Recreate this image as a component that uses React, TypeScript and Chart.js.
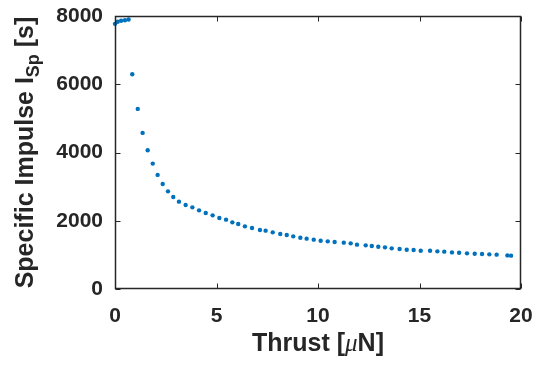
import React, { useEffect, useRef } from "react";
import { Chart, registerables } from "chart.js";

Chart.register(...registerables);

const thrust = [
  0.0, 0.13, 0.3, 0.49, 0.67, 0.85, 1.12, 1.36, 1.61, 1.86,
  2.1, 2.35, 2.61, 2.87, 3.15, 3.48, 3.81, 4.14, 4.47, 4.81,
  5.14, 5.47, 5.78, 6.07, 6.4, 6.75, 7.14, 7.42, 7.77, 8.14,
  8.46, 8.78, 9.13, 9.44, 9.79, 10.13, 10.48, 10.82, 11.27, 11.61,
  11.92, 12.35, 12.65, 12.97, 13.3, 13.63, 14.02, 14.37, 14.71, 15.06,
  15.52, 15.88, 16.22, 16.6, 16.95, 17.34, 17.72, 18.08, 18.44, 18.8,
  19.33, 19.51,
];
const isp = [
  7770, 7830, 7860, 7877, 7897, 6293, 5278, 4575, 4065, 3674,
  3343, 3079, 2862, 2698, 2560, 2463, 2393, 2305, 2228, 2158,
  2082, 2032, 1953, 1906, 1836, 1789, 1730, 1710, 1660, 1613,
  1584, 1543, 1504, 1475, 1446, 1416, 1396, 1378, 1358, 1337,
  1299, 1279, 1261, 1240, 1220, 1191, 1173, 1152, 1144, 1123,
  1123, 1103, 1094, 1073, 1064, 1044, 1035, 1026, 1015, 1006,
  985, 977,
];
const xTicks = [0, 5, 10, 15, 20];
const yTicks = [0, 2000, 4000, 6000, 8000];

const AXIS = "#262626";
const FONT = "'Liberation Sans', Arial, Helvetica, sans-serif";

const framePlugin = {
  id: "frame",
  afterDraw(chart: any) {
    const { ctx, chartArea: a, scales } = chart;
    ctx.save();
    ctx.setLineDash([]);
    ctx.strokeStyle = AXIS;
    ctx.fillStyle = AXIS;
    ctx.lineWidth = 1.5;
    const L = Math.round(a.left) + 0.5;
    const T = Math.round(a.top) + 0.5;
    const R = Math.round(a.right) - 0.5;
    const B = Math.round(a.bottom) - 0.5;
    ctx.beginPath();
    ctx.moveTo(L, T);
    ctx.lineTo(R, T);
    ctx.lineTo(R, B);
    ctx.lineTo(L, B);
    ctx.closePath();
    ctx.stroke();
    ctx.lineWidth = 1;
    const tl = 5;
    ctx.beginPath();
    xTicks.forEach((v) => {
      const px = Math.round(scales.x.getPixelForValue(v)) + 0.5;
      ctx.moveTo(px, B);
      ctx.lineTo(px, B - tl);
      ctx.moveTo(px, T);
      ctx.lineTo(px, T + tl);
    });
    yTicks.forEach((v) => {
      const py = Math.round(scales.y.getPixelForValue(v)) + 0.5;
      ctx.moveTo(L, py);
      ctx.lineTo(L + tl, py);
      ctx.moveTo(R, py);
      ctx.lineTo(R - tl, py);
    });
    ctx.stroke();

    ctx.textBaseline = "alphabetic";
    // x title: Thrust [μN]
    const xParts = [
      { t: "Thrust [", f: `bold 25px ${FONT}` },
      { t: "\u03bc", f: `italic 25px 'Liberation Serif', 'Times New Roman', serif` },
      { t: "N]", f: `bold 25px ${FONT}` },
    ];
    let w = 0;
    xParts.forEach((p) => { ctx.font = p.f; w += ctx.measureText(p.t).width; });
    let x = (a.left + a.right) / 2 - w / 2;
    const by = 351;
    xParts.forEach((p) => {
      ctx.font = p.f;
      ctx.textAlign = "left";
      ctx.fillText(p.t, x, by);
      x += ctx.measureText(p.t).width;
    });
    // y title: Specific Impulse I_Sp [s]
    const yParts = [
      { t: "Specific Impulse I", f: `bold 25px ${FONT}`, dy: 0 },
      { t: "Sp", f: `bold 18px ${FONT}`, dy: 6 },
      { t: " [s]", f: `bold 25px ${FONT}`, dy: 0 },
    ];
    let wy = 0;
    yParts.forEach((p) => { ctx.font = p.f; wy += ctx.measureText(p.t).width; });
    ctx.translate(33, (a.top + a.bottom) / 2);
    ctx.rotate(-Math.PI / 2);
    let lx = -wy / 2;
    yParts.forEach((p) => {
      ctx.font = p.f;
      ctx.textAlign = "left";
      ctx.fillText(p.t, lx, p.dy);
      lx += ctx.measureText(p.t).width;
    });
    ctx.restore();
  },
};

export default function App() {
  const ref = useRef<HTMLCanvasElement>(null);
  useEffect(() => {
    if (!ref.current) return;
    const chart = new Chart(ref.current, {
      type: "scatter",
      data: {
        datasets: [
          {
            data: thrust.map((t, i) => ({ x: t, y: isp[i] })),
            backgroundColor: "#0072BD",
            borderColor: "#0072BD",
            pointRadius: 2.2,
            pointBorderWidth: 0,
            clip: false as any,
          },
        ],
      },
      options: {
        animation: false,
        responsive: true,
        maintainAspectRatio: false,
        layout: { padding: { top: 16, right: 16, left: 0, bottom: 0 } },
        plugins: { legend: { display: false }, tooltip: { enabled: false } },
        scales: {
          x: {
            type: "linear",
            min: 0,
            max: 20,
            afterFit: (s: any) => {
              s.height = 76;
              s.paddingLeft = 0;
              s.paddingRight = 0;
            },
            afterBuildTicks: (s: any) => { s.ticks = xTicks.map((v) => ({ value: v })); },
            grid: { display: false },
            border: { display: false },
            ticks: {
              color: AXIS,
              font: { family: FONT, size: 21, weight: "bold" },
              padding: 7,
              maxRotation: 0,
              callback: (v: any) => String(v),
            },
          },
          y: {
            type: "linear",
            min: 0,
            max: 8000,
            afterFit: (s: any) => {
              s.width = 115;
              s.paddingTop = 0;
              s.paddingBottom = 0;
            },
            afterBuildTicks: (s: any) => { s.ticks = yTicks.map((v) => ({ value: v })); },
            grid: { display: false },
            border: { display: false },
            ticks: {
              color: AXIS,
              font: { family: FONT, size: 21, weight: "bold" },
              padding: 4,
              callback: (v: any) => String(v),
            },
          },
        },
      },
      plugins: [framePlugin],
    });
    return () => chart.destroy();
  }, []);
  return (
    <div style={{ position: "absolute", left: 0, top: 0, width: 537, height: 365, background: "#fff" }}>
      <canvas ref={ref} />
    </div>
  );
}
